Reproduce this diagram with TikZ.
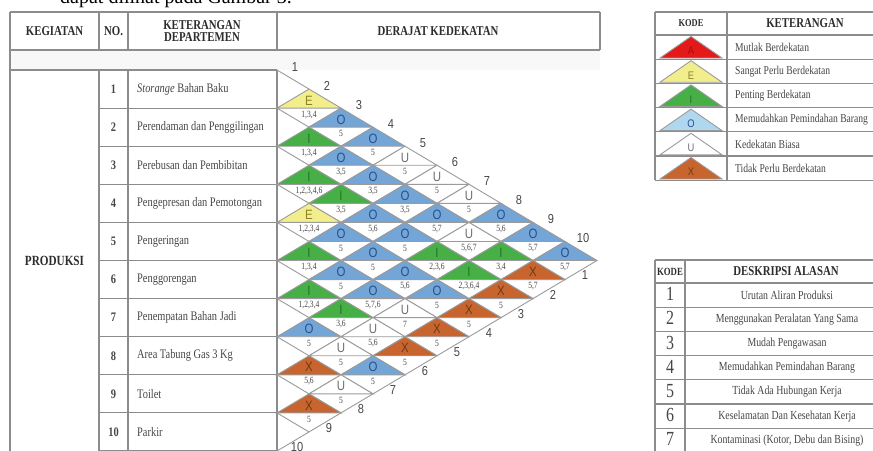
\documentclass[tikz,border=0pt]{standalone}
\usepackage{fontspec}
\setmainfont{Liberation Serif}[FakeStretch=0.8]
\newfontfamily\lsans{Liberation Sans}[FakeStretch=0.85]
\newfontfamily\plainserif{Liberation Serif}
\definecolor{colA}{RGB}{228,25,25}
\definecolor{colE}{RGB}{243,238,140}
\definecolor{colI}{RGB}{70,175,70}
\definecolor{colO}{RGB}{115,165,215}
\definecolor{colOl}{RGB}{175,215,240}
\definecolor{colU}{RGB}{255,255,255}
\definecolor{colX}{RGB}{200,100,45}
\definecolor{letA}{RGB}{150,20,20}
\definecolor{letE}{RGB}{140,130,40}
\definecolor{letI}{RGB}{40,110,40}
\definecolor{letO}{RGB}{40,80,140}
\definecolor{letU}{RGB}{110,110,110}
\definecolor{letX}{RGB}{110,60,25}
\definecolor{lgray}{RGB}{155,155,155}
\definecolor{tgray}{RGB}{140,140,140}
\definecolor{txtdark}{RGB}{45,45,45}
\definecolor{txtgray}{RGB}{70,70,70}
\definecolor{bandgray}{RGB}{248,248,248}
\begin{document}
\begin{tikzpicture}[x=1pt,y=-1pt,
  grid/.style={draw=lgray,line width=0.9pt},
  tline/.style={draw=tgray,line width=1.1pt},
  hdr/.style={font=\bfseries\fontsize{13.5}{15}\selectfont,text=txtdark,align=center},
  body/.style={font=\fontsize{13}{14}\selectfont,text=txtgray,anchor=west,inner sep=0pt},
  nobox/.style={font=\bfseries\fontsize{13}{14}\selectfont,text=txtgray,inner sep=0pt},
  letr/.style={font=\lsans\fontsize{13.5}{13}\selectfont,inner sep=0pt},
  reas/.style={font=\fontsize{9.5}{10}\selectfont,text=txtgray,inner sep=0pt},
  edgenum/.style={font=\lsans\fontsize{13}{13}\selectfont,text=txtgray,inner sep=0pt},
  legtxt/.style={font=\fontsize{12}{13}\selectfont,text=txtgray,anchor=west,inner sep=0pt},
  legdesc/.style={font=\fontsize{12.3}{13}\selectfont,text=txtgray,inner sep=0pt},
  legnum/.style={font=\fontsize{20}{20}\selectfont,text=txtgray,inner sep=0pt}
]
\useasboundingbox (0,0) rectangle (873,450);
\clip (0,0) rectangle (873,450);
\fill[white] (0,0) rectangle (873,450);

% ---------- clipped caption line at the very top ----------
\node[font=\plainserif\fontsize{20}{20}\selectfont,anchor=base west,inner sep=0pt] (cap) at (60,3.5) {dapat dilihat pada Gambar 3.};

% ---------- main table ----------
\fill[bandgray] (10,50) rectangle (600,70);
\draw[tline] (10,12) -- (600,12);
\draw[tline] (10,50) -- (600,50);
\draw[tline] (600,12) -- (600,50);
\draw[tline] (10,70) -- (277,70);
\draw[tline] (10,12) -- (10,455);
\draw[tline] (99,12) -- (99,50);
\draw[tline] (99,70) -- (99,455);
\draw[tline] (128,12) -- (128,50);
\draw[tline] (128,70) -- (128,455);
\draw[tline] (277,12) -- (277,50);
\draw[tline] (277,70) -- (277,455);
\foreach \k in {1,...,10}{
  \draw[tline] (99,{70+38.1*\k}) -- (277,{70+38.1*\k});
}
\node[hdr] (hK) at (54.5,31) {KEGIATAN};
\node[hdr] (hN) at (113.5,31) {NO.};
\node[hdr] (hD) at (202,31) {KETERANGAN\\[-3pt]DEPARTEMEN};
\node[hdr] (hR) at (438,31) {DERAJAT KEDEKATAN};
\node[hdr,font=\bfseries\fontsize{14}{15}\selectfont] (prod) at (54.5,260.5) {PRODUKSI};

\foreach \k/\t in {1/{\textit{Storange} Bahan Baku},2/{Perendaman dan Penggilingan},3/{Perebusan dan Pembibitan},4/{Pengepresan dan Pemotongan},5/{Pengeringan},6/{Penggorengan},7/{Penempatan Bahan Jadi},8/{Area Tabung Gas 3 Kg},9/{Toilet},10/{Parkir}}{
  \pgfmathsetmacro\ry{70+38.1*\k-19.05}
  \node[nobox] (n\k) at (113.5,\ry) {\k};
  \node[body] (t\k) at (137,\ry) {\t};
}

% ---------- relationship chart ----------
\draw[grid] (277,70) -- (309,89.05);
\draw[grid] (277,451) -- (309,431.95);
\foreach \i/\j/\L/\R in {
 1/2/E/{1,3,4}, 1/3/O/{5}, 1/4/O/{5}, 1/5/U/{5}, 1/6/U/{5}, 1/7/U/{5}, 1/8/O/{5,6}, 1/9/O/{5,7}, 1/10/O/{5,7},
 2/3/I/{1,3,4}, 2/4/O/{3,5}, 2/5/O/{3,5}, 2/6/O/{3,5}, 2/7/O/{5,7}, 2/8/U/{5,6,7}, 2/9/I/{3,4}, 2/10/X/{5,7},
 3/4/I/{1,2,3,4,6}, 3/5/I/{3,5}, 3/6/O/{5,6}, 3/7/O/{5}, 3/8/I/{2,3,6}, 3/9/I/{2,3,6,4}, 3/10/X/{5},
 4/5/E/{1,2,3,4}, 4/6/O/{5}, 4/7/O/{5}, 4/8/O/{5,6}, 4/9/O/{5}, 4/10/X/{5},
 5/6/I/{1,3,4}, 5/7/O/{5}, 5/8/O/{5,7,6}, 5/9/U/{7}, 5/10/X/{5},
 6/7/I/{1,2,3,4}, 6/8/I/{3,6}, 6/9/U/{5,6}, 6/10/X/{5},
 7/8/O/{5}, 7/9/U/{5}, 7/10/O/{5},
 8/9/X/{5,6}, 8/10/U/{5},
 9/10/X/{5}}{
  \pgfmathsetmacro\cx{277+32*(\j-\i)}
  \pgfmathsetmacro\cy{70+19.05*(\i+\j-1)}
  \pgfmathsetmacro\xl{\cx-32}
  \pgfmathsetmacro\xr{\cx+32}
  \pgfmathsetmacro\yt{\cy-19.05}
  \pgfmathsetmacro\yb{\cy+19.05}
  \filldraw[grid,fill=col\L] (\xl,\cy) -- (\cx,\yt) -- (\xr,\cy) -- cycle;
  \draw[grid] (\xl,\cy) -- (\cx,\yb) -- (\xr,\cy);
  \node[letr,text=let\L] (L\i-\j) at (\cx,{\cy-7.5}) {\L};
  \node[reas] (R\i-\j) at (\cx,{\cy+6.5}) {\R};
}
% numbers along the top and bottom edges
\foreach \k in {1,...,10}{
  \pgfmathsetmacro\tx{277+32*\k-14}
  \pgfmathsetmacro\ty{70+19.05*\k-22}
  \pgfmathsetmacro\bx{277+32*(11-\k)-12}
  \pgfmathsetmacro\by{451-19.05*(11-\k)+15}
  \node[edgenum] (top\k) at (\tx,\ty) {\k};
  \node[edgenum] (bot\k) at (\bx,\by) {\k};
}

% ---------- legend 1 ----------
\draw[tline] (655,12) -- (880,12);
\draw[tline] (655,12) -- (655,180.2);
\draw[tline] (727,12) -- (727,180.2);
\draw[tline] (655,35) -- (880,35);
\foreach \r in {1,...,6}{
  \draw[tline] (655,{35+24.2*\r}) -- (880,{35+24.2*\r});
}
\node[hdr,font=\bfseries\fontsize{10.5}{12}\selectfont] (lk1) at (691,23.5) {KODE};
\node[hdr] (lk2) at (805,23.5) {KETERANGAN};
\foreach \r/\L/\C/\t in {1/A/colA/{Mutlak Berdekatan},2/E/colE/{Sangat Perlu Berdekatan},3/I/colI/{Penting Berdekatan},4/O/colOl/{Memudahkan Pemindahan Barang},5/U/colU/{Kedekatan Biasa},6/X/colX/{Tidak Perlu Berdekatan}}{
  \pgfmathsetmacro\yt{35+24.2*(\r-1)}
  \pgfmathsetmacro\yb{35+24.2*\r}
  \pgfmathsetmacro\ybb{\yb-1.2}
  \pgfmathsetmacro\ytt{\yt+1.5}
  \pgfmathsetmacro\yl{\yb-8}
  \pgfmathsetmacro\ym{\yt+12.1}
  \filldraw[grid,fill=\C] (660,\ybb) -- (691,\ytt) -- (722,\ybb) -- cycle;
  \node[letr,font=\lsans\fontsize{11}{11}\selectfont,text=let\L] (lg\r) at (691,\yl) {\L};
  \node[legtxt] (lt\r) at (735,\ym) {\t};
}

% ---------- legend 2 ----------
\draw[tline] (655,260) -- (880,260);
\draw[tline] (655,260) -- (655,455);
\draw[tline] (685,260) -- (685,455);
\draw[tline] (655,283) -- (880,283);
\foreach \r in {1,...,7}{
  \draw[tline] (655,{283+24.2*\r}) -- (880,{283+24.2*\r});
}
\node[hdr,font=\bfseries\fontsize{11}{12}\selectfont] (dk1) at (670,271.5) {KODE};
\node[hdr] (dk2) at (786,271.5) {DESKRIPSI ALASAN};
\foreach \r/\t in {1/{Urutan Aliran Produksi},2/{Menggunakan Peralatan Yang Sama},3/{Mudah Pengawasan},4/{Memudahkan Pemindahan Barang},5/{Tidak Ada Hubungan Kerja},6/{Keselamatan Dan Kesehatan Kerja},7/{Kontaminasi (Kotor, Debu dan Bising)}}{
  \pgfmathsetmacro\dy{283+24.2*\r-12.1}
  \node[legnum] (dn\r) at (670,{\dy-1}) {\r};
  \node[legdesc] (dt\r) at (787,\dy) {\t};
}
\end{tikzpicture}
\end{document}
